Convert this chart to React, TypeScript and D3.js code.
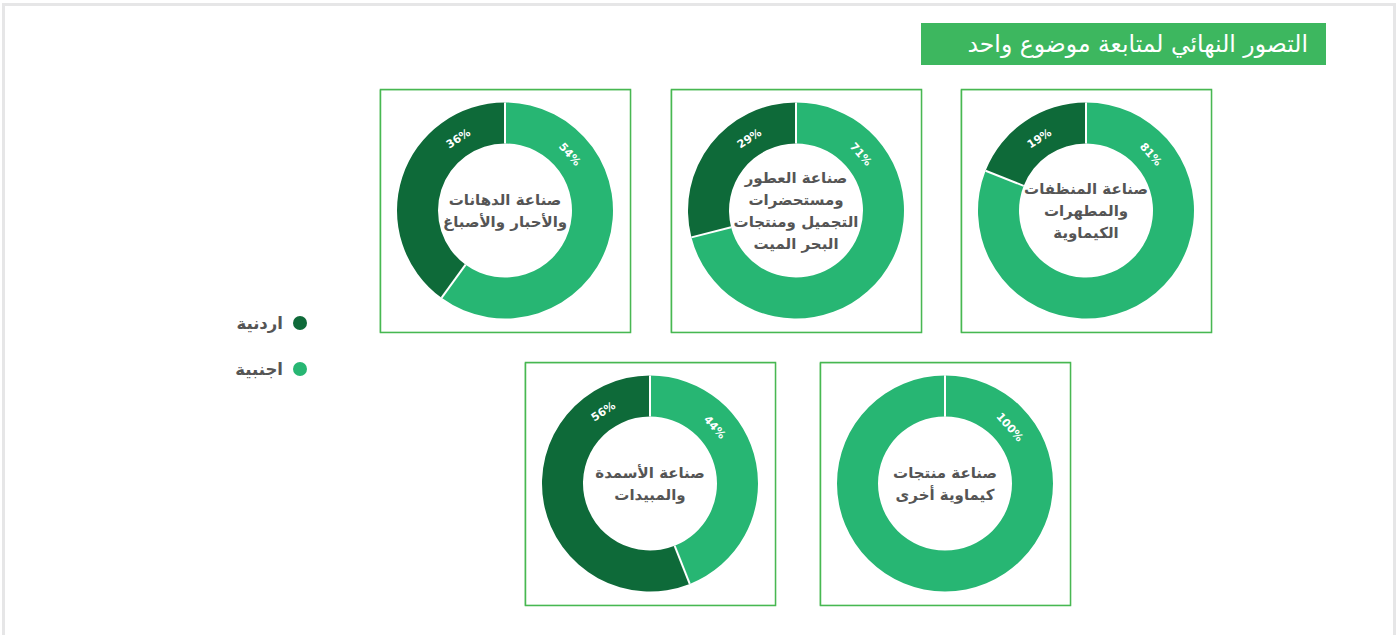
import React from 'react';
import * as d3 from 'd3';

// sectors in reading order (right to left, top row first)
const sectorLines: string[][] = [
  ["صناعة المنظفات", "والمطهرات", "الكيماوية"],
  ["صناعة العطور", "ومستحضرات", "التجميل ومنتجات", "البحر الميت"],
  ["صناعة الدهانات", "والأحبار والأصباغ"],
  ["صناعة منتجات", "كيماوية أخرى"],
  ["صناعة الأسمدة", "والمبيدات"],
];
const foreignShare = [81, 71, 54, 100, 44];
const jordanShare = [19, 29, 36, 0, 56];

const legendLabels = ["اردنية", "اجنبية"];
const title = "التصور النهائي لمتابعة موضوع واحد";

const DARK = "#0e6a39";
const LIGHT = "#27b673";
const FONT = "'DejaVu Sans', sans-serif";

const W = 1399;
const H = 635;
const BOX_W = 250;
const BOX_H = 243;
// box corners, same order as the sectors
const boxes = [
  { x: 961, y: 89 },
  { x: 671, y: 89 },
  { x: 380, y: 89 },
  { x: 820, y: 362 },
  { x: 525, y: 362 },
];

const outerR = 108;
const innerR = 67;
const labelR = 86;

const pie = d3.pie<number>().sort(null).value(d => d).startAngle(0).endAngle(2 * Math.PI);
const arc = d3.arc<d3.PieArcDatum<number>>().innerRadius(innerR).outerRadius(outerR);

const Donut: React.FC<{ i: number }> = ({ i }) => {
  const box = boxes[i];
  const cx = box.x + BOX_W / 2;
  const cy = box.y + BOX_H / 2;
  const arcs = pie([foreignShare[i], jordanShare[i]]);
  const lines = sectorLines[i];
  const lh = 22;
  return (
    <g>
      <rect x={box.x + 0.5} y={box.y + 0.5} width={BOX_W} height={BOX_H} fill="none" stroke="#48b852" strokeWidth={1.5} />
      <rect x={box.x - 0.3} y={box.y + 1.2} width={BOX_W + 1} height={BOX_H - 1} fill="none" stroke="#48b852" strokeOpacity={0.35} strokeWidth={1} />
      <g transform={`translate(${cx},${cy})`}>
        {arcs.map((a, k) => (
          <path key={k} d={arc(a) || ""} fill={k === 0 ? LIGHT : DARK} />
        ))}
        {arcs.map((a, k) => (
          <line key={"s" + k}
            x1={innerR * Math.sin(a.startAngle)} y1={-innerR * Math.cos(a.startAngle)}
            x2={outerR * Math.sin(a.startAngle)} y2={-outerR * Math.cos(a.startAngle)}
            stroke="#fff" strokeWidth={2} />
        ))}
        {arcs.filter(a => a.value > 0).map((a, k) => {
          const ang = a.index === 0 ? a.startAngle + (49 * Math.PI) / 180 : a.endAngle - (33 * Math.PI) / 180;
          const deg = (ang * 180) / Math.PI;
          const x = labelR * Math.sin(ang);
          const y = -labelR * Math.cos(ang);
          return (
            <text key={"l" + k} transform={`translate(${x},${y}) rotate(${deg})`} textAnchor="middle" dy="0.35em"
              fill="#fff" fontSize={11} fontWeight="bold" fontFamily={FONT}>
              {`${a.data}%`}
            </text>
          );
        })}
        {lines.map((t, k) => (
          <text key={"c" + k} x={0} y={(k - (lines.length - 1) / 2) * lh} dy="0.35em" textAnchor="middle"
            fill="#555" fontSize={15} fontWeight="bold" fontFamily={FONT}>
            {t}
          </text>
        ))}
      </g>
    </g>
  );
};

export default function App() {
  const legendColor = d3.scaleOrdinal<string, string>().domain(legendLabels).range([DARK, LIGHT]);
  const legendY = d3.scalePoint<string>().domain(legendLabels).range([323, 369]);
  return (
    <svg width={W} height={H} style={{ position: 'absolute', left: 0, top: 0, background: '#fff' }}>
      <path d={`M3.5,${H} V4.5 H1394.5 V${H}`} fill="none" stroke="#e6e6e7" strokeWidth={3} />
      <rect x={921} y={23} width={405} height={42} fill="#3db75f" />
      <text x={1308} y={44} dy="0.35em" textAnchor="end" fill="#fff" fontSize={23.5} fontFamily={FONT}>{title}</text>
      {legendLabels.map(l => (
        <g key={l} transform={`translate(300,${legendY(l)})`}>
          <circle r={7} fill={legendColor(l)} />
          <text x={-17} dy="0.35em" textAnchor="end" fill="#555" fontSize={16.5} fontWeight="bold" fontFamily={FONT}>{l}</text>
        </g>
      ))}
      {sectorLines.map((_, i) => <Donut key={i} i={i} />)}
    </svg>
  );
}
